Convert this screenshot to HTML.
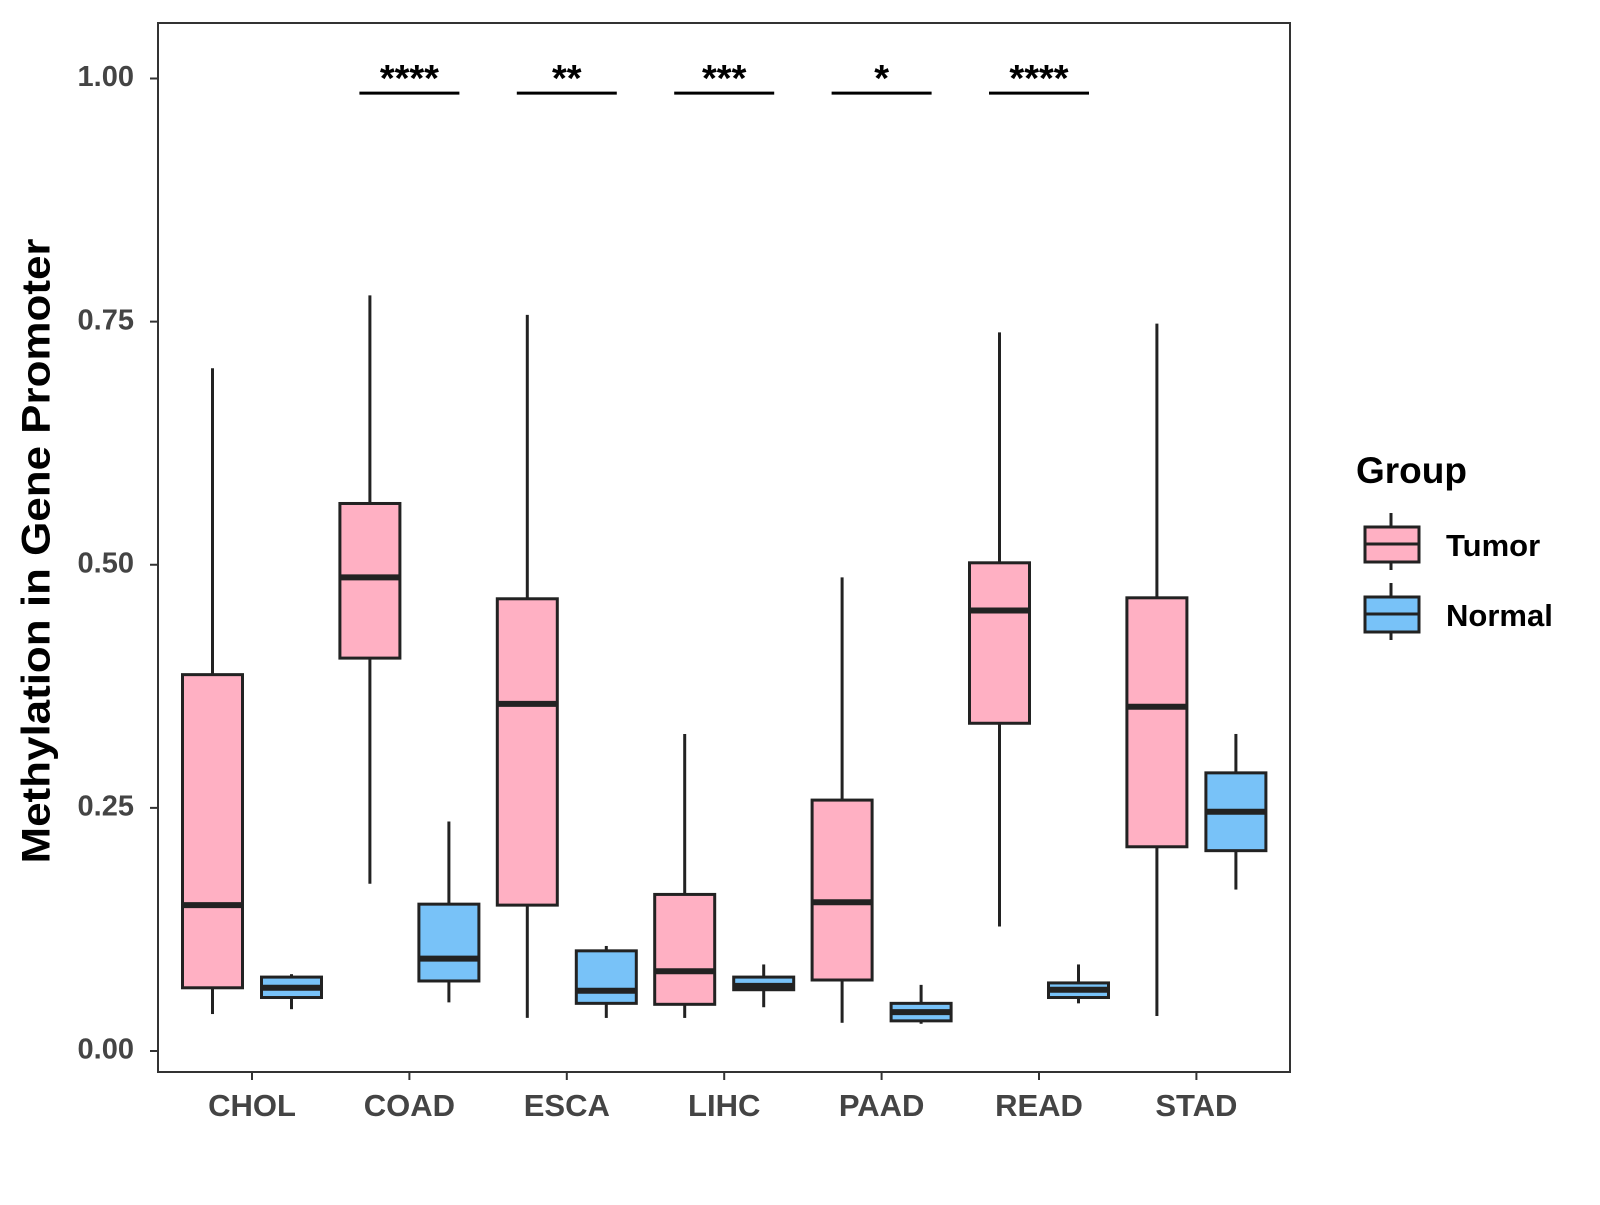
<!DOCTYPE html>
<html><head><meta charset="utf-8"><style>
body{margin:0;background:#fff}
svg text{font-family:"Liberation Sans",Arial,sans-serif;font-weight:bold}
</style></head><body>
<svg id="chart" width="1600" height="1200" viewBox="0 0 1600 1200" xmlns="http://www.w3.org/2000/svg">
<rect x="158" y="23" width="1132" height="1049" fill="#fff" stroke="#333" stroke-width="2"/>
<g id="yaxis"></g>
<g id="xaxis"></g>
<g id="boxes"></g>
<g id="sig"></g>
<text x="39" y="551" font-size="40" text-anchor="middle" dominant-baseline="middle" textLength="625" lengthAdjust="spacingAndGlyphs" transform="rotate(-90 39 551)" fill="#000">Methylation in Gene Promoter</text>
<g>
<text x="1356" y="483" font-size="37" fill="#000">Group</text>
<g>
<line x1="1391" y1="513" x2="1391" y2="570" stroke="#222" stroke-width="3"/>
<rect x="1365" y="527" width="54" height="35" fill="#FFB0C3" stroke="#222" stroke-width="3"/>
<line x1="1365" y1="544" x2="1419" y2="544" stroke="#222" stroke-width="3"/>
<text x="1446" y="556" font-size="31" fill="#000">Tumor</text></g>
<g>
<line x1="1391" y1="583" x2="1391" y2="640" stroke="#222" stroke-width="3"/>
<rect x="1365" y="597" width="54" height="35" fill="#78C2F8" stroke="#222" stroke-width="3"/>
<line x1="1365" y1="614" x2="1419" y2="614" stroke="#222" stroke-width="3"/>
<text x="1446" y="626" font-size="31" fill="#000">Normal</text></g>
</g>
</svg>
<script>
const categories=["CHOL","COAD","ESCA","LIHC","PAAD","READ","STAD"];
// [low, q1, median, q3, high]
const tumorStats=[[0.038,0.065,0.150,0.387,0.702],[0.172,0.404,0.487,0.563,0.777],[0.034,0.150,0.357,0.465,0.757],[0.034,0.048,0.082,0.161,0.326],[0.029,0.073,0.153,0.258,0.487],[0.128,0.337,0.453,0.502,0.739],[0.036,0.210,0.354,0.466,0.748]];
const normalStats=[[0.043,0.055,0.065,0.076,0.079],[0.050,0.072,0.095,0.151,0.236],[0.034,0.049,0.062,0.103,0.108],[0.045,0.063,0.067,0.076,0.089],[0.028,0.031,0.040,0.049,0.068],[0.049,0.055,0.063,0.070,0.089],[0.166,0.206,0.246,0.286,0.326]];
const yTicks=[0,0.25,0.5,0.75,1.0];
const yTickLabels=["0.00","0.25","0.50","0.75","1.00"];
const sigLabels=["","****","**","***","*","****",""];
const sigLevel=0.985;

const NS="http://www.w3.org/2000/svg";
const y=v=>1051-v*972.5;
const x=i=>252+i*157.4;
function mk(tag,attrs,parent,text){const e=document.createElementNS(NS,tag);for(const k in attrs)e.setAttribute(k,attrs[k]);if(text!==undefined)e.textContent=text;parent.appendChild(e);return e;}
const ya=document.getElementById('yaxis'),xa=document.getElementById('xaxis'),bx=document.getElementById('boxes'),sg=document.getElementById('sig');
yTicks.forEach((t,i)=>{
  const tk=mk('line',{x1:150,x2:158,y1:y(t),y2:y(t),stroke:'#333','stroke-width':2},ya);
  
  
  const tl=mk('text',{x:134,y:y(t),'font-size':29,'text-anchor':'end','dominant-baseline':'middle',fill:'#444'},ya,yTickLabels[i]);
  
  
});
categories.forEach((c,i)=>{
  const tk=mk('line',{x1:x(i),x2:x(i),y1:1072,y2:1080,stroke:'#333','stroke-width':2},xa);
  
  
  const tl=mk('text',{x:x(i),y:1108,'font-size':31,'text-anchor':'middle','dominant-baseline':'middle',fill:'#444'},xa,c);
  
  
});
function box(s,cx,fill,name){
  const g=mk('g',{},bx);
  
  
  const w=30;
  mk('line',{x1:cx,x2:cx,y1:y(s[4]),y2:y(s[3]),stroke:'#222','stroke-width':3},g);
  mk('line',{x1:cx,x2:cx,y1:y(s[1]),y2:y(s[0]),stroke:'#222','stroke-width':3},g);
  mk('rect',{x:cx-w,y:y(s[3]),width:2*w,height:y(s[1])-y(s[3]),fill:fill,stroke:'#222','stroke-width':3},g);
  mk('line',{x1:cx-w,x2:cx+w,y1:y(s[2]),y2:y(s[2]),stroke:'#222','stroke-width':6},g);
}
categories.forEach((c,i)=>{
  box(tumorStats[i],x(i)-39.5,'#FFB0C3','box-tumor-'+c.toLowerCase());
  box(normalStats[i],x(i)+39.5,'#78C2F8','box-normal-'+c.toLowerCase());
  if(sigLabels[i]){
    const l=mk('line',{x1:x(i)-50,x2:x(i)+50,y1:y(sigLevel),y2:y(sigLevel),stroke:'#000','stroke-width':3},sg);
    
    
    const t=mk('text',{x:x(i),y:y(sigLevel)-2,'font-size':38,'text-anchor':'middle',fill:'#000'},sg,sigLabels[i]);
    
    
  }
});
</script>
</body></html>
